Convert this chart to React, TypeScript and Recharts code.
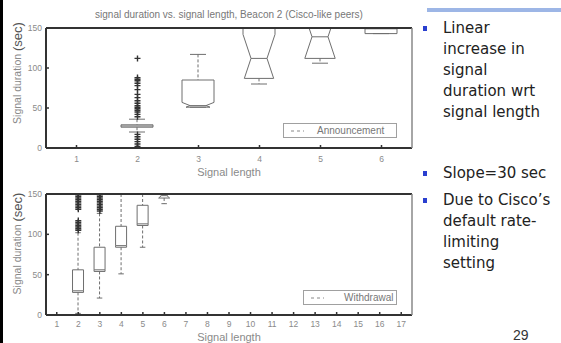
import { ComposedChart, Bar, Scatter, XAxis, YAxis, Legend, Label } from "recharts";

// top panel: announcements, box stats per signal length
const annLengths = [2, 3, 4, 5, 6];
const annLo = [20, 51, 80, 106, 143];
const annQ1 = [26, 51, 87, 112, 143];
const annMed = [27.5, 53, 112, 139, 149];
const annQ3 = [29, 85, 150, 150, 150];
const annHi = [36, 117, 150, 150, 150];
const annNotch = [0, 4, 30, 30, 0];
const annOutliers2 = [112, 88, 86, 84, 81, 78, 73, 67, 63, 59, 56, 53, 51, 49, 47, 45, 42, 39, 17, 14, 11, 8, 5, 2, 0];

// bottom panel: withdrawals
const wdLengths = [2, 3, 4, 5, 6];
const wdLo = [2, 21, 51, 84, 138];
const wdQ1 = [28, 54, 84, 111, 145];
const wdMed = [30, 56, 86, 113, 148];
const wdQ3 = [56, 84, 110, 136, 150];
const wdHi = [102, 126, 150, 150, 150];
const wdNotch = [0, 0, 0, 0, 3];
const wdOutliers2 = [105, 107, 109, 111, 113, 115, 117, 131, 133, 135, 137, 139, 141, 143, 145, 147, 149];
const wdOutliers3 = [129, 131, 133, 135, 137, 139, 141, 143, 145, 147, 149];

const annTicks = [1, 2, 3, 4, 5, 6];
const wdTicks = [1, 2, 3, 4, 5, 6, 7, 8, 9, 10, 11, 12, 13, 14, 15, 16, 17];
const durTicks = [0, 50, 100, 150];

const bulletLines = [
  ["Linear", "increase in", "signal", "duration wrt", "signal length"],
  ["Slope=30 sec"],
  ["Due to Cisco\u2019s", "default rate-", "limiting", "setting"],
];
const bulletTops = [17.5, 162.5, 189.5];

type BoxRow = { len: number; lo: number; q1: number; med: number; q3: number; hi: number; notch: number };

function makeBoxes(len: number[], lo: number[], q1: number[], med: number[], q3: number[], hi: number[], notch: number[]): BoxRow[] {
  return len.map((l, i) => ({ len: l, lo: lo[i], q1: q1[i], med: med[i], q3: q3[i], hi: hi[i], notch: notch[i] }));
}

const annBoxes = makeBoxes(annLengths, annLo, annQ1, annMed, annQ3, annHi, annNotch);
const wdBoxes = makeBoxes(wdLengths, wdLo, wdQ1, wdMed, wdQ3, wdHi, wdNotch);
const annOut = annOutliers2.map((v) => ({ len: 2, dur: v }));
const wdOut = [
  ...wdOutliers2.map((v) => ({ len: 2, dur: v })),
  ...wdOutliers3.map((v) => ({ len: 3, dur: v })),
];

const LINE = "#6e6e6e";
const FRAME = "#333";
const TXT = "#8a8a8a";
const FONT = "'Liberation Sans', Arial, sans-serif";

function BoxShape(props: any) {
  const { x, y, width, height, payload } = props;
  if (x == null || y == null || !payload) return null;
  const b = payload as BoxRow;
  const k = b.hi !== b.lo ? height / (b.hi - b.lo) : 0;
  const py = (v: number) => y + (b.hi - v) * k;
  const cx = x + width / 2;
  const cap = width / 4;
  const L = x;
  const R = x + width;
  const inset = b.notch > 0 ? width / 4 : 0;
  const upT = b.notch > 0 ? Math.min(1, (b.q3 - b.med) / b.notch) : 1;
  const loT = b.notch > 0 ? Math.min(1, (b.med - b.q1) / b.notch) : 1;
  const nHi = Math.min(b.med + b.notch, b.q3);
  const nLo = Math.max(b.med - b.notch, b.q1);
  const wTop = inset * (1 - upT);
  const wBot = inset * (1 - loT);

  const left: [number, number][] = [[L + wTop, b.q3]];
  if (upT >= 1) left.push([L, nHi]);
  left.push([L + inset, b.med]);
  if (loT >= 1) left.push([L, nLo]);
  left.push([L + wBot, b.q1]);
  const right = left.map(([px, v]) => [R - (px - L), v] as [number, number]).reverse();
  const pts = [...left, ...right];
  const d = pts.map(([px, v], i) => `${i === 0 ? "M" : "L"}${px},${py(v)}`).join(" ") + " Z";

  return (
    <g>
      {b.hi > b.q3 && (
        <line x1={cx} x2={cx} y1={py(b.hi)} y2={py(b.q3)} stroke={LINE} strokeDasharray="3 2" />
      )}
      {b.lo < b.q1 && (
        <line x1={cx} x2={cx} y1={py(b.q1)} y2={py(b.lo)} stroke={LINE} strokeDasharray="3 2" />
      )}
      <line x1={cx - cap} x2={cx + cap} y1={py(b.hi)} y2={py(b.hi)} stroke={LINE} />
      <line x1={cx - cap} x2={cx + cap} y1={py(b.lo)} y2={py(b.lo)} stroke={LINE} />
      <path d={d} fill="none" stroke={LINE} />
      <line x1={L + inset} x2={R - inset} y1={py(b.med)} y2={py(b.med)} stroke={LINE} />
    </g>
  );
}

function PlusShape(props: any) {
  const { cx, cy } = props;
  if (cx == null || cy == null) return null;
  return <path d={`M${cx - 3},${cy}h6M${cx},${cy - 3}v6`} stroke="#333" strokeWidth={1.4} />;
}

function LegendBox({ label, textLeft }: { label: string; textLeft: number }) {
  return (
    <div
      style={{
        boxSizing: "border-box",
        width: "100%",
        height: "100%",
        border: "1px solid #a0a0a0",
        background: "#fff",
        position: "relative",
        fontFamily: FONT,
        fontSize: 10,
        color: "#777",
      }}
    >
      <svg width={20} height={13} style={{ position: "absolute", left: 6, top: 0 }}>
        <line x1={1} y1={7} x2={14} y2={7} stroke="#888" strokeDasharray="3 3" />
      </svg>
      <span style={{ position: "absolute", left: textLeft, top: 1, lineHeight: "12px" }}>{label}</span>
    </div>
  );
}

function yLabel(shift: number) {
  return (props: any) => {
    const vb = props.viewBox || { x: 0, y: 0, width: 0, height: 0 };
    const cy = vb.y + vb.height / 2 + shift;
    return (
      <text transform={`translate(17, ${cy}) rotate(-90)`} textAnchor="middle" dominantBaseline="central" fontFamily={FONT} fill={TXT}>
        <tspan fontSize={10.5}>Signal duration </tspan>
        <tspan fontSize={13} fill="#555">(sec)</tspan>
      </text>
    );
  };
}

function BoxPanel(props: {
  boxes: BoxRow[];
  outliers: { len: number; dur: number }[];
  ticks: number[];
  width: number;
  height: number;
  marginTop: number;
  axisHeight: number;
  tickGap: number;
  barSize: number;
  legend: string;
  legendPos: { left: number; top: number; width: number; textLeft: number };
  labelShift: number;
}) {
  const { boxes, outliers, ticks } = props;
  const domain = [ticks[0] - 0.5, ticks[ticks.length - 1] + 0.5];
  return (
    <ComposedChart
      width={props.width}
      height={props.height}
      data={boxes}
      margin={{ top: props.marginTop - 1, right: 7, bottom: 0, left: 0 }}
    >
      <XAxis
        dataKey="len"
        type="number"
        domain={domain}
        ticks={ticks}
        allowDataOverflow
        height={props.axisHeight}
        interval={0}
        tickSize={-3}
        tickMargin={props.tickGap}
        axisLine={{ stroke: FRAME, strokeWidth: 2 }}
        tickLine={{ stroke: FRAME, strokeWidth: 1.5 }}
        tick={{ fill: TXT, fontSize: 8.5, fontFamily: FONT }}
        label={{ value: "Signal length", position: "insideBottom", offset: 2, fill: TXT, fontSize: 11, fontFamily: FONT }}
      />
      <XAxis
        xAxisId="top"
        orientation="top"
        dataKey="len"
        type="number"
        domain={domain}
        ticks={ticks}
        allowDataOverflow
        height={1}
        interval={0}
        tickSize={-3}
        tick={false}
        axisLine={{ stroke: FRAME, strokeWidth: 2 }}
        tickLine={{ stroke: FRAME, strokeWidth: 1.5 }}
      />
      <YAxis
        type="number"
        domain={[0, 150]}
        ticks={durTicks}
        allowDataOverflow
        width={46}
        tickSize={-3}
        tickMargin={7}
        axisLine={{ stroke: FRAME, strokeWidth: 2 }}
        tickLine={{ stroke: FRAME, strokeWidth: 1.5 }}
        tick={{ fill: TXT, fontSize: 8.5, fontFamily: FONT }}
        label={<Label content={yLabel(props.labelShift)} />}
      />
      <YAxis
        yAxisId="right"
        orientation="right"
        type="number"
        domain={[0, 150]}
        ticks={durTicks}
        allowDataOverflow
        width={1}
        tickSize={-3}
        tick={false}
        axisLine={{ stroke: "#888", strokeWidth: 1.5 }}
        tickLine={{ stroke: FRAME, strokeWidth: 1.5 }}
      />
      <Bar
        dataKey={(d: BoxRow) => [d.lo, d.hi]}
        barSize={props.barSize}
        fill="none"
        shape={BoxShape}
        isAnimationActive={false}
      />
      <Scatter
        data={outliers}
        dataKey="dur"
        xAxisId="top"
        yAxisId="right"
        shape={PlusShape}
        isAnimationActive={false}
      />
      <Legend
        verticalAlign="middle"
        layout="horizontal"
        align="center"
        content={() => <LegendBox label={props.legend} textLeft={props.legendPos.textLeft} />}
        wrapperStyle={{
          left: props.legendPos.left,
          top: props.legendPos.top,
          width: props.legendPos.width,
          height: 15,
          bottom: "auto",
          right: "auto",
        }}
      />
    </ComposedChart>
  );
}

export default function App() {
  return (
    <div
      style={{
        position: "absolute",
        left: 0,
        top: 0,
        width: 561,
        height: 343,
        background: "#fff",
        overflow: "hidden",
      }}
    >
      <div style={{ position: "absolute", left: 0, top: 0, width: 3, height: 343, background: "#000" }} />
      <div style={{ position: "absolute", left: 0, top: 0 }}>
        <BoxPanel
          boxes={annBoxes}
          outliers={annOut}
          ticks={annTicks}
          width={420}
          height={178}
          marginTop={28}
          axisHeight={30}
          tickGap={11}
          barSize={32}
          legend="Announcement"
          legendPos={{ left: 283, top: 123, width: 114, textLeft: 33 }}
          labelShift={-15}
        />
      </div>
      <div
        style={{
          position: "absolute",
          left: 46,
          top: 9,
          width: 366,
          textAlign: "center",
          fontFamily: FONT,
          fontSize: 10,
          color: "#777",
          lineHeight: "12px",
          whiteSpace: "nowrap",
        }}
      >
        signal duration vs. signal length, Beacon 2 (Cisco-like peers)
      </div>
      <div style={{ position: "absolute", left: 0, top: 178 }}>
        <BoxPanel
          boxes={wdBoxes}
          outliers={wdOut}
          ticks={wdTicks}
          width={420}
          height={165}
          marginTop={16}
          axisHeight={28}
          tickGap={9}
          barSize={11}
          legend="Withdrawal"
          legendPos={{ left: 303, top: 112, width: 94, textLeft: 40 }}
          labelShift={-11}
        />
      </div>
      <div style={{ position: "absolute", left: 427, top: 8, width: 134, height: 4, background: "#9db6e6" }} />
      {bulletLines.map((lines, i) => (
        <div key={i} style={{ position: "absolute", left: 0, top: bulletTops[i] }}>
          <div style={{ position: "absolute", left: 423, top: 8, width: 4, height: 5, background: "#2a3fcf" }} />
          <div
            style={{
              position: "absolute",
              left: 443,
              top: 0,
              fontFamily: "'DejaVu Sans', Verdana, sans-serif",
              fontSize: 15,
              lineHeight: "21px",
              color: "#222",
              whiteSpace: "nowrap",
            }}
          >
            {lines.map((t, j) => (
              <div key={j}>{t}</div>
            ))}
          </div>
        </div>
      ))}
      <div
        style={{
          position: "absolute",
          left: 513,
          top: 327,
          fontFamily: FONT,
          fontSize: 14,
          lineHeight: "16px",
          color: "#333",
        }}
      >
        29
      </div>
    </div>
  );
}
